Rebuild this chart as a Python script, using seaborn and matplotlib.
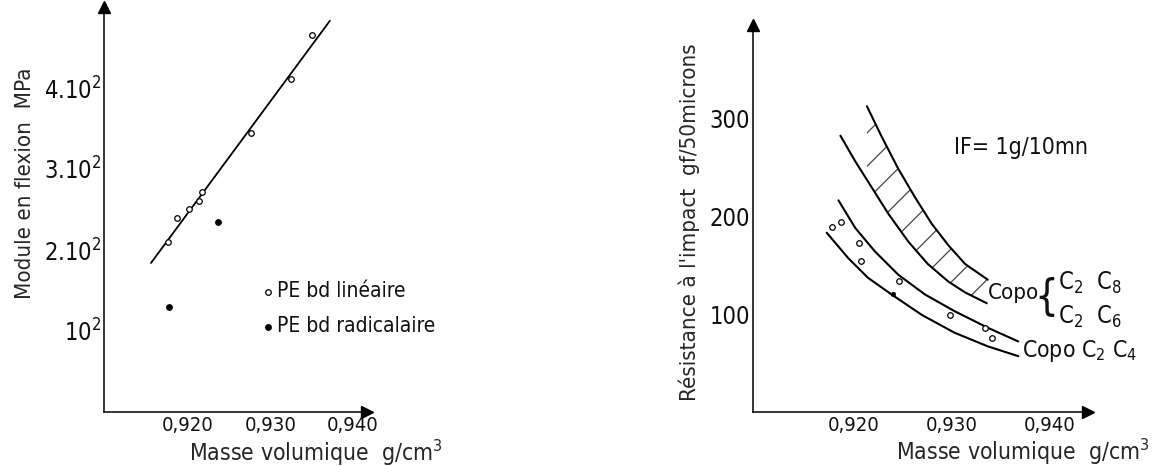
import numpy as np
import pandas as pd
import matplotlib
matplotlib.use("Agg")
import matplotlib.pyplot as plt
from matplotlib import font_manager
import seaborn as sns

# ---------------- data : left panel (flexural modulus) ----------------
lin_density = [0.9176, 0.9186, 0.9201, 0.9213, 0.9217, 0.9276, 0.9325, 0.9350]
lin_modulus = [210, 240, 251, 261, 271, 345, 411, 466]
rad_density = [0.9177, 0.9236]
rad_modulus = [130, 235]
fit_density = [0.9155, 0.9372]
fit_modulus = [184, 483]
left_yticks = [100, 200, 300, 400]
left_yticklabels = [r"10$^2$", r"2.10$^2$", r"3.10$^2$", r"4.10$^2$"]
density_ticks = [0.920, 0.930, 0.940]
density_ticklabels = ["0,920", "0,930", "0,940"]

# ---------------- data : right panel (impact resistance) ----------------
c8_upper_x = [0.9214, 0.9229, 0.9246, 0.9263, 0.9280, 0.9297, 0.9314, 0.9337]
c8_upper_y = [312, 281, 248, 219, 192, 170, 151, 135]
c6_lower_x = [0.9187, 0.9202, 0.9219, 0.9236, 0.9256, 0.9276, 0.9297, 0.9314, 0.9336]
c6_lower_y = [282, 256, 229, 202, 174, 151, 133, 122, 111]
c4_upper_x = [0.9185, 0.9202, 0.9222, 0.9246, 0.9273, 0.9303, 0.9337, 0.9368]
c4_upper_y = [216, 188, 164, 140, 120, 103, 86, 72]
c4_lower_x = [0.9173, 0.9195, 0.9215, 0.9239, 0.9270, 0.9303, 0.9337, 0.9368]
c4_lower_y = [183, 157, 137, 120, 99, 81, 67, 57]
c4_open_x = [0.9178, 0.9188, 0.9206, 0.9208, 0.9247, 0.9299, 0.9334, 0.9341]
c4_open_y = [189, 194, 172, 154, 134, 99, 86, 76]
c4_filled_x = [0.9240]
c4_filled_y = [120]
right_yticks = [100, 200, 300]
right_yticklabels = ["100", "200", "300"]

# ---------------- style ----------------
sns.set_theme(style="white")
names = {f.name for f in font_manager.fontManager.ttflist}
if "Liberation Sans Narrow" in names:
    FAM = "Liberation Sans Narrow"
    plt.rcParams["font.family"] = [FAM, "DejaVu Sans"]
else:
    FAM = "DejaVu Sans"
    plt.rcParams["font.family"] = [FAM]
    plt.rcParams["font.stretch"] = "condensed"
plt.rcParams.update({
    "mathtext.fontset": "custom",
    "mathtext.rm": FAM,
    "mathtext.it": FAM,
    "mathtext.default": "regular",
    "hatch.linewidth": 0.9,
    "axes.edgecolor": "black",
    "text.color": "#111111",
})

W, H = 1161, 466
fig = plt.figure(figsize=(W / 100, H / 100), dpi=100)
fig.patch.set_facecolor("white")

def px_axes(x0, x1, y_bottom, y_top):
    return fig.add_axes([x0 / W, 1 - y_bottom / H, (x1 - x0) / W, (y_bottom - y_top) / H])

axL = px_axes(104, 367, 412, 7)
axR = px_axes(753, 1088, 412, 25)

def style_axes(ax, ylen):
    for s in ["top", "right"]:
        ax.spines[s].set_visible(False)
    for s in ["left", "bottom"]:
        ax.spines[s].set_linewidth(1.1)
        ax.spines[s].set_color("black")
    ax.set_facecolor("white")
    ax.grid(False)
    ax.tick_params(axis="x", direction="in", length=9, width=1.0, pad=3,
                   labelsize=14.5, colors="black", labelcolor="#111111")
    ax.tick_params(axis="y", direction="in", length=ylen, width=1.0, pad=2,
                   labelsize=17, colors="black", labelcolor="#111111")
    ax.plot(1, 0, marker=">", ms=8, color="black", transform=ax.transAxes, clip_on=False)
    ax.plot(0, 1, marker="^", ms=8, color="black", transform=ax.transAxes, clip_on=False)

# ---------------- left panel ----------------
sns.lineplot(x=fit_density, y=fit_modulus, ax=axL, color="black", lw=1.3,
             sort=False, estimator=None)
sns.scatterplot(x=lin_density, y=lin_modulus, ax=axL, marker="o", s=16,
                facecolor="white", edgecolor="black", linewidth=0.9,
                label="PE bd linéaire", zorder=3)
sns.scatterplot(x=rad_density, y=rad_modulus, ax=axL, marker="o", s=16,
                color="black", edgecolor="black", linewidth=0.9,
                label="PE bd radicalaire", zorder=3)
axL.set_xlim(0.9098, 0.9417)
axL.set_ylim(0, 500)
axL.set_xticks(density_ticks)
axL.set_xticklabels(density_ticklabels)
axL.set_yticks(left_yticks)
axL.set_yticklabels(left_yticklabels)
style_axes(axL, 7)
axL.set_xlabel(r"Masse volumique  g/cm$^3$", fontsize=16.5)
axL.xaxis.set_label_coords(0.806, -0.100)
axL.xaxis.label.set_va("center")
axL.set_ylabel("Module en flexion  MPa", fontsize=16)
axL.yaxis.set_label_coords(-0.300, 0.565)
axL.yaxis.label.set_va("center")
leg = axL.legend(loc="upper left", bbox_to_anchor=((262 - 104) / 263, (412 - 281) / 405),
                 frameon=False, fontsize=15, handletextpad=0.1, handlelength=0.6,
                 labelspacing=0.72, borderpad=0, borderaxespad=0, markerscale=1.0)

# ---------------- right panel ----------------
for xs, ys in [(c8_upper_x, c8_upper_y), (c6_lower_x, c6_lower_y),
               (c4_upper_x, c4_upper_y), (c4_lower_x, c4_lower_y)]:
    sns.lineplot(x=xs, y=ys, ax=axR, color="black", lw=1.5, sort=False, estimator=None)

lo = max(min(c8_upper_x), min(c6_lower_x))
hi = min(max(c8_upper_x), max(c6_lower_x))
grid = np.linspace(lo, hi, 200)
axR.fill_between(grid, np.interp(grid, c6_lower_x, c6_lower_y),
                 np.interp(grid, c8_upper_x, c8_upper_y),
                 facecolor="none", edgecolor="#444444", hatch="/", linewidth=0)

sns.scatterplot(x=c4_open_x, y=c4_open_y, ax=axR, marker="o", s=16,
                facecolor="white", edgecolor="black", linewidth=0.9, zorder=3)
sns.scatterplot(x=c4_filled_x, y=c4_filled_y, ax=axR, marker="o", s=12,
                color="black", edgecolor="black", zorder=3)

axR.set_xlim(0.9098, 0.9439)
axR.set_ylim(0, 395)
axR.set_xticks(density_ticks)
axR.set_xticklabels(density_ticklabels)
axR.set_yticks(right_yticks)
axR.set_yticklabels(right_yticklabels)
style_axes(axR, 10)
axR.set_xlabel(r"Masse volumique  g/cm$^3$", fontsize=16.5)
axR.xaxis.set_label_coords(0.806, -0.104)
axR.xaxis.label.set_va("center")
axR.set_ylabel("Résistance à l'impact  gf/50microns", fontsize=16)
axR.yaxis.set_label_coords(-0.189, 0.491)
axR.yaxis.label.set_va("center")

axR.text(0.9303, 270, "IF= 1g/10mn", fontsize=16.5, va="center", ha="left")
axR.text(0.9337, 121, "Copo", fontsize=16, va="center", ha="left")
axR.text(0.9397, 116, "{", fontsize=30, va="center", ha="center")
axR.text(0.9408, 132, r"C$_2$  C$_8$", fontsize=17, va="center", ha="left")
axR.text(0.9408, 97, r"C$_2$  C$_6$", fontsize=17, va="center", ha="left")
axR.text(0.9372, 62, r"Copo C$_2$ C$_4$", fontsize=16.5, va="center", ha="left")

fig.savefig("out.png", dpi=100, facecolor="white")
